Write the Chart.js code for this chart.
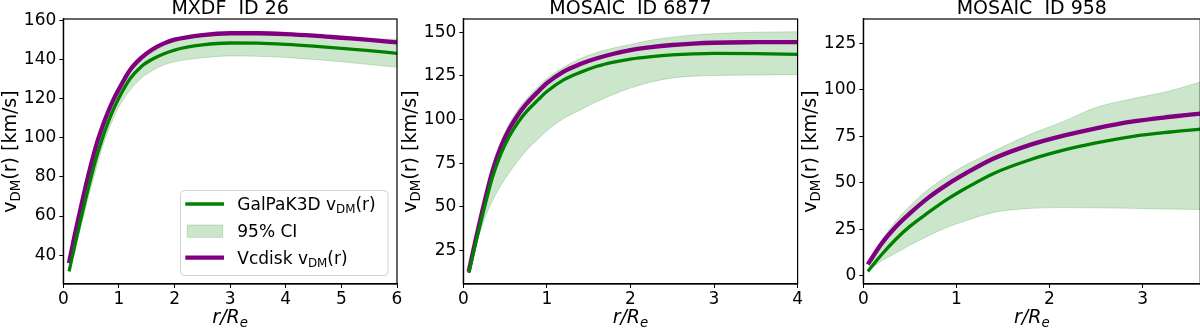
<!DOCTYPE html>
<html>
<head>
<meta charset="utf-8">
<script src="https://cdn.jsdelivr.net/npm/chart.js@4.4.0/dist/chart.umd.min.js"></script>
<style>
    html, body { margin: 0; padding: 0; background: #fff; }
    body { width: 1200px; height: 328px; overflow: hidden; position: relative; }
    .panel { position: absolute; top: 0; }
</style>
</head>
<body>
<canvas id="g1" class="panel" style="left:0px" width="404" height="328"></canvas>
<canvas id="g2" class="panel" style="left:400px" width="404" height="328"></canvas>
<canvas id="g3" class="panel" style="left:800px" width="410" height="328"></canvas>
<script>
// ========= Datos =========
// MXDF ID 26
const rMxdf = [0.11, 0.2, 0.3, 0.4, 0.5, 0.6, 0.7, 0.8, 0.9, 1.0, 1.2, 1.4, 1.6, 1.8, 2.0, 2.5, 3.0, 3.5, 4.0, 4.5, 5.0, 5.5, 6.0];
const galpakMxdf = [32.5, 44, 56.5, 68.5, 80, 90.5, 99.5, 107.5, 114.5, 120.5, 130.3, 136.5, 140.3, 143, 145, 147.6, 148.6, 148.5, 147.9, 147, 145.9, 144.7, 143.3];
const vcdiskMxdf = [37, 49.5, 62.5, 75, 86.5, 97, 105.5, 113, 119.5, 125, 134.8, 141, 145.3, 148.3, 150.3, 152.7, 153.6, 153.6, 153.2, 152.4, 151.3, 150.2, 148.9];
const ciInfMxdf = [31.5, 42, 53, 64, 75, 85, 95, 103, 110, 116, 124.5, 130.5, 134.5, 137.3, 139, 141, 142, 141.8, 141.2, 140.2, 139, 137.6, 136.2];
const ciSupMxdf = [34.5, 47, 60, 72.5, 84, 94.5, 103.5, 111, 117.5, 123, 133.5, 139.5, 144, 147, 149.3, 152, 153.1, 153.1, 152.7, 152, 151.2, 150.8, 150.6];

// MOSAIC ID 6877
const r6877 = [0.07, 0.15, 0.25, 0.35, 0.45, 0.55, 0.65, 0.75, 0.9, 1.0, 1.2, 1.4, 1.6, 1.8, 2.0, 2.25, 2.5, 2.75, 3.0, 3.5, 4.0];
const galpak6877 = [13, 29.5, 49, 67, 80.3, 90.3, 98, 104.2, 111.5, 116, 122.7, 127, 130.5, 132.9, 134.6, 136, 137, 137.6, 137.9, 137.8, 137.3];
const vcdisk6877 = [14, 31.5, 52, 70.5, 84.3, 94.5, 102.3, 108.6, 116.2, 120.8, 127.5, 131.8, 135.1, 137.7, 139.8, 141.5, 142.7, 143.5, 144, 144.3, 144.4];
const ciInf6877 = [12.5, 27.5, 42.5, 53.5, 62.3, 69.5, 76, 82, 89, 93.5, 100.5, 105.5, 110.3, 114.5, 118, 121.5, 123.8, 124.8, 125.2, 125.5, 125.7];
const ciSup6877 = [15, 34, 55, 74.5, 87.5, 97.5, 105.5, 111.5, 119, 123.5, 130, 134.8, 138.5, 141, 143, 145.5, 147.2, 148.4, 149.2, 150, 150.3];

// MOSAIC ID 958
const r958 = [0.06, 0.2, 0.35, 0.5, 0.7, 0.9, 1.1, 1.4, 1.8, 2.15, 2.5, 2.9, 3.3, 3.62];
const galpak958 = [3, 11.5, 19.6, 26.5, 34, 41, 47, 55, 62.5, 67.5, 71.4, 75, 77.3, 78.8];
const vcdisk958 = [7, 17.5, 26.3, 33.5, 42, 49, 55, 63, 70.5, 75.3, 79.3, 83, 85.5, 87.2];
const ciInf958 = [3, 8, 12.2, 16.3, 21.5, 26, 29.5, 34, 36.2, 36.6, 36.5, 36.2, 35.8, 35.6];
const ciSup958 = [6.5, 19, 29.5, 37.5, 46.5, 53.5, 59.5, 67, 76.2, 83, 90.5, 95.3, 99.5, 104.2];

// Ticks
const xTicksMxdf = [0, 1, 2, 3, 4, 5, 6];
const yTicksMxdf = [40, 60, 80, 100, 120, 140, 160];
const xTicks6877 = [0, 1, 2, 3, 4];
const yTicks6877 = [25, 50, 75, 100, 125, 150];
const xTicks958 = [0, 1, 2, 3];
const yTicks958 = [0, 25, 50, 75, 100, 125];

const FUENTE = "'DejaVu Sans', sans-serif";
const VERDE = '#008000';
const MORADO = '#800080';
const BANDA = 'rgba(0,128,0,0.2)';

// ========= Utilidades =========
function puntos(r, v) {
    return r.map((x, i) => ({ x: x, y: v[i] }));
}

// texto con subindices; partes = [{t, sub, it}]
function anchoPartes(ctx, partes, size) {
    let w = 0;
    partes.forEach(p => {
        const s = p.sub ? size * 0.7 : size;
        ctx.font = (p.it ? 'italic ' : '') + s + 'px ' + FUENTE;
        w += ctx.measureText(p.t).width;
    });
    return w;
}

function dibujarPartes(ctx, partes, x, y, size) {
    ctx.textAlign = 'left';
    ctx.textBaseline = 'alphabetic';
    ctx.fillStyle = '#000';
    partes.forEach(p => {
        const s = p.sub ? size * 0.7 : size;
        ctx.font = (p.it ? 'italic ' : '') + s + 'px ' + FUENTE;
        ctx.fillText(p.t, x, p.sub ? y + size * 0.2 : y);
        x += ctx.measureText(p.t).width;
    });
    return x;
}

// ========= Plugins =========
const marco = {
    id: 'marco',
    afterDatasetsDraw(chart) {
        const a = chart.chartArea;
        const ctx = chart.ctx;
        ctx.save();
        ctx.strokeStyle = '#000';
        ctx.lineWidth = 1.2;
        ctx.strokeRect(a.left, a.top, a.right - a.left, a.bottom - a.top);
        ctx.restore();
    }
};

const etiquetas = {
    id: 'etiquetas',
    afterDraw(chart) {
        const a = chart.chartArea;
        const ctx = chart.ctx;
        ctx.save();
        // eje x: r/R_e
        const px = [{ t: 'r/R', it: true }, { t: 'e', it: true, sub: true }];
        const wx = anchoPartes(ctx, px, 19);
        dibujarPartes(ctx, px, (a.left + a.right) / 2 - wx / 2, 323, 19);
        // eje y: v_DM(r) [km/s]
        const py = [{ t: 'v' }, { t: 'DM', sub: true }, { t: '(r) [km/s]' }];
        const wy = anchoPartes(ctx, py, 19);
        ctx.translate(15.8, (a.top + a.bottom) / 2);
        ctx.rotate(-Math.PI / 2);
        dibujarPartes(ctx, py, -wy / 2, 0, 19);
        ctx.restore();
    }
};

const leyenda = {
    id: 'leyenda',
    afterDraw(chart) {
        const ctx = chart.ctx;
        ctx.save();
        ctx.beginPath();
        ctx.roundRect(180.5, 190.5, 207.5, 85, 4);
        ctx.fillStyle = 'rgba(255,255,255,0.8)';
        ctx.fill();
        ctx.strokeStyle = 'rgba(204,204,204,0.9)';
        ctx.lineWidth = 1;
        ctx.stroke();

        ctx.lineCap = 'butt';
        ctx.strokeStyle = VERDE;
        ctx.lineWidth = 3.3;
        ctx.beginPath(); ctx.moveTo(185.3, 204); ctx.lineTo(224, 204); ctx.stroke();
        dibujarPartes(ctx, [{ t: 'GalPaK3D v' }, { t: 'DM', sub: true }, { t: '(r)' }], 237.3, 210, 17);

        ctx.fillStyle = BANDA;
        ctx.fillRect(187.3, 225, 35.4, 12.3);
        ctx.strokeStyle = BANDA;
        ctx.lineWidth = 1;
        ctx.strokeRect(187.3, 225, 35.4, 12.3);
        dibujarPartes(ctx, [{ t: '95% CI' }], 237.3, 236.7, 17);

        ctx.strokeStyle = MORADO;
        ctx.lineWidth = 4.3;
        ctx.beginPath(); ctx.moveTo(185.3, 257.7); ctx.lineTo(224, 257.7); ctx.stroke();
        dibujarPartes(ctx, [{ t: 'Vcdisk v' }, { t: 'DM', sub: true }, { t: '(r)' }], 237.3, 263.5, 17);
        ctx.restore();
    }
};

// ========= Graficos =========
function ejeBase(min, max, ticks) {
    return {
        type: 'linear',
        min: min,
        max: max,
        afterBuildTicks: s => { s.ticks = ticks.map(v => ({ value: v })); },
        grid: { display: true, drawOnChartArea: false, drawTicks: true, tickLength: 4, color: '#000', tickWidth: 1 },
        border: { display: true, color: '#000', width: 1.2 },
        ticks: { font: { family: FUENTE, size: 17 }, color: '#000', maxRotation: 0, autoSkip: false }
    };
}

function crearPanel(id, cfg) {
    const ctx = document.getElementById(id).getContext('2d');
    const ejeX = ejeBase(cfg.xMin, cfg.xMax, cfg.xTicks);
    ejeX.afterFit = s => { s.height = 44; };
    ejeX.ticks.padding = 1;
    const ejeY = ejeBase(cfg.yMin, cfg.yMax, cfg.yTicks);
    ejeY.afterFit = s => { s.width = 63.3; };
    ejeY.ticks.padding = 3;

    const linea = { pointRadius: 0, fill: false, cubicInterpolationMode: 'monotone', clip: 0, borderCapStyle: 'square' };
    const plugins = [marco, etiquetas];
    if (cfg.leyenda) plugins.push(leyenda);

    return new Chart(ctx, {
        type: 'line',
        data: {
            datasets: [
                { ...linea, label: 'GalPaK3D', data: puntos(cfg.r, cfg.galpak), borderColor: VERDE, borderWidth: 3.3 },
                { ...linea, label: 'Vcdisk', data: puntos(cfg.r, cfg.vcdisk), borderColor: MORADO, borderWidth: 4.3 },
                { ...linea, label: 'inf', data: puntos(cfg.r, cfg.inf), borderColor: BANDA, borderWidth: 1, borderCapStyle: 'butt' },
                { ...linea, label: '95% CI', data: puntos(cfg.r, cfg.sup), borderColor: BANDA, borderWidth: 1, borderCapStyle: 'butt', fill: '-1', backgroundColor: BANDA }
            ]
        },
        plugins: plugins,
        options: {
            responsive: false,
            animation: false,
            devicePixelRatio: 1,
            layout: { padding: { left: 0, right: cfg.padDer, top: 0, bottom: 0 } },
            scales: { x: ejeX, y: ejeY },
            plugins: {
                legend: { display: false },
                tooltip: { enabled: false },
                title: {
                    display: true, text: cfg.titulo, fullSize: false, color: '#000',
                    font: { family: FUENTE, size: 19, weight: 'normal', lineHeight: 1 },
                    padding: { top: 0, bottom: 0 }
                }
            }
        }
    });
}

// ========= Init =========
crearPanel('g1', {
    titulo: 'MXDF  ID 26', r: rMxdf, galpak: galpakMxdf, vcdisk: vcdiskMxdf, inf: ciInfMxdf, sup: ciSupMxdf,
    xMin: 0, xMax: 6, yMin: 25.2, yMax: 160.9, xTicks: xTicksMxdf, yTicks: yTicksMxdf, padDer: 7, leyenda: true
});
crearPanel('g2', {
    titulo: 'MOSAIC  ID 6877', r: r6877, galpak: galpak6877, vcdisk: vcdisk6877, inf: ciInf6877, sup: ciSup6877,
    xMin: 0, xMax: 4, yMin: 5.7, yMax: 157.6, xTicks: xTicks6877, yTicks: yTicks6877, padDer: 6.3
});
crearPanel('g3', {
    titulo: 'MOSAIC  ID 958', r: r958, galpak: galpak958, vcdisk: vcdisk958, inf: ciInf958, sup: ciSup958,
    xMin: 0, xMax: 3.62, yMin: -4.5, yMax: 138.1, xTicks: xTicks958, yTicks: yTicks958, padDer: 9.7
});
</script>
</body>
</html>
